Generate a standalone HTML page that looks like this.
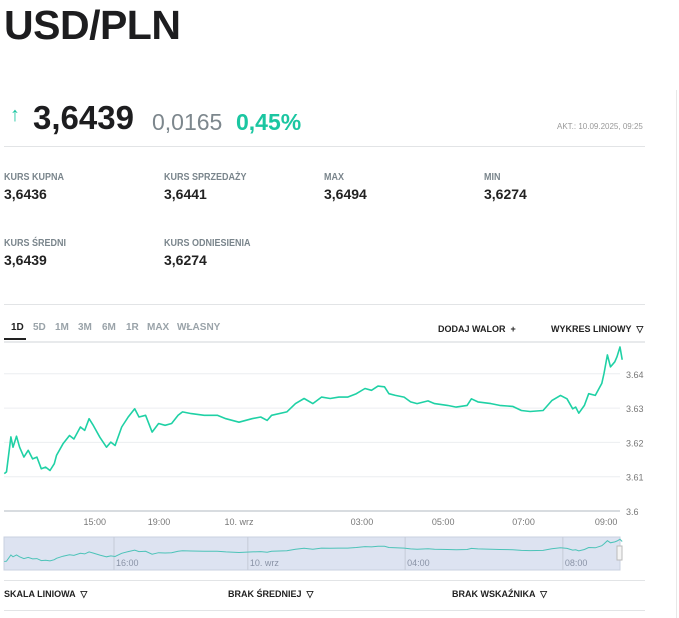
<!DOCTYPE html>
<html><head><meta charset="utf-8">
<style>
body{margin:0;width:679px;height:618px;background:#fff;font-family:"Liberation Sans",sans-serif;color:#222;position:relative;overflow:hidden}
.a{position:absolute;white-space:nowrap}
.lab{font-size:10px;color:#7a858c;font-weight:bold;transform:scaleX(.9);transform-origin:left}
.val{font-size:14px;font-weight:bold;color:#222}
.hl{position:absolute;height:1px;background:#e2e4e6}
.tab{font-size:10px;color:#9aa3a9;font-weight:bold}
.ft{font-size:10px;font-weight:bold;color:#222}
</style></head><body>
<div class="a" style="left:4px;top:2px;font-size:41px;font-weight:bold;letter-spacing:-0.5px;color:#1d1d1f">USD/PLN</div>
<div class="a" style="left:10px;top:104px;font-size:20px;color:#1bc6a1;font-weight:bold">↑</div>
<div class="a" style="left:33px;top:99px;font-size:33px;font-weight:bold;color:#1d1d1f">3,6439</div>
<div class="a" style="left:152px;top:109px;font-size:23px;color:#7d878d">0,0165</div>
<div class="a" style="left:236px;top:109px;font-size:23px;color:#1bc6a1;font-weight:bold">0,45%</div>
<div class="a" style="left:557px;top:122px;font-size:8px;color:#999">AKT.: 10.09.2025, 09:25</div>
<div class="hl" style="left:4px;top:146px;width:641px"></div>

<div class="a lab" style="left:4px;top:172px">KURS KUPNA</div>
<div class="a val" style="left:4px;top:186px">3,6436</div>
<div class="a lab" style="left:164px;top:172px">KURS SPRZEDAŻY</div>
<div class="a val" style="left:164px;top:186px">3,6441</div>
<div class="a lab" style="left:324px;top:172px">MAX</div>
<div class="a val" style="left:324px;top:186px">3,6494</div>
<div class="a lab" style="left:484px;top:172px">MIN</div>
<div class="a val" style="left:484px;top:186px">3,6274</div>
<div class="a lab" style="left:4px;top:238px">KURS ŚREDNI</div>
<div class="a val" style="left:4px;top:252px">3,6439</div>
<div class="a lab" style="left:164px;top:238px">KURS ODNIESIENIA</div>
<div class="a val" style="left:164px;top:252px">3,6274</div>
<div class="hl" style="left:4px;top:304px;width:641px"></div>

<div class="a tab" style="left:11px;top:322px;color:#222">1D</div>
<div class="a" style="left:4px;top:338px;width:22px;height:2px;background:#222"></div>
<div class="a tab" style="left:33px;top:322px">5D</div>
<div class="a tab" style="left:55px;top:322px">1M</div>
<div class="a tab" style="left:78px;top:322px">3M</div>
<div class="a tab" style="left:102px;top:322px">6M</div>
<div class="a tab" style="left:126px;top:322px">1R</div>
<div class="a tab" style="left:147px;top:322px">MAX</div>
<div class="a tab" style="left:177px;top:322px">WŁASNY</div>
<div class="a ft" style="left:438px;top:324px;font-size:9px">DODAJ WALOR &nbsp;+</div>
<div class="a ft" style="left:551px;top:324px;font-size:9px">WYKRES LINIOWY &nbsp;▽</div>
<div class="hl" style="left:4px;top:341px;width:641px;background:#e8eaec;height:2px"></div>
<div class="a" style="left:676px;top:90px;width:1px;height:528px;background:#e8e8e8"></div>

<svg class="a" style="left:0;top:0" width="679" height="618">
<g id="grid"></g><g id="main"></g><g id="nav"></g>
</svg>

<div class="hl" style="left:4px;top:580px;width:641px"></div>
<div class="a ft" style="left:4px;top:589px;font-size:9px">SKALA LINIOWA &nbsp;▽</div>
<div class="a ft" style="left:228px;top:589px;font-size:9px">BRAK ŚREDNIEJ &nbsp;▽</div>
<div class="a ft" style="left:452px;top:589px;font-size:9px">BRAK WSKAŹNIKA &nbsp;▽</div>
<div class="hl" style="left:4px;top:610px;width:641px"></div>

<script>
const sampleIdx=[1,1.5,2.5,3,3.8,4.5,5.5,6.5,7.5,8.5,9.5,10.5,11.5,12.5,13,14.5,16,17,18.5,19.5,20.5,21.5,23,24.5,25.5,26.5,28,29.5,31,32,33.5,35,36.5,38,39.5,41,42,44,47,50,52,55,58,60,61.5,62.5,66,68,70,72,74,76,78,80,82,84,85.5,87,88.5,89.5,91,93,94.5,96,98.5,100,103,105,107.5,108.5,110,113,115,118,120,122,125,127,129,130.5,131.8,132.5,133.2,134.5,135.5,137,138.5,139,139.8,140.5,141.5,142,142.7,143.2];
const rates=[3.6109,3.6114,3.6216,3.6186,3.6218,3.6186,3.6157,3.6177,3.6152,3.6157,3.6123,3.6128,3.6118,3.6138,3.6162,3.6196,3.6220,3.6210,3.6245,3.6235,3.6269,3.6249,3.6215,3.6186,3.6201,3.6191,3.6245,3.6274,3.6298,3.6274,3.6279,3.6230,3.6255,3.6250,3.6255,3.6279,3.6289,3.6284,3.6279,3.6279,3.6269,3.6259,3.6269,3.6274,3.6264,3.6279,3.6289,3.6313,3.6328,3.6313,3.6332,3.6328,3.6332,3.6332,3.6342,3.6357,3.6352,3.6364,3.6362,3.6342,3.6337,3.6332,3.6318,3.6313,3.6321,3.6313,3.6308,3.6303,3.6308,3.6327,3.6318,3.6313,3.6308,3.6305,3.6293,3.6290,3.6293,3.6322,3.6337,3.6327,3.6298,3.6303,3.6285,3.6308,3.6342,3.6337,3.6372,3.6401,3.6455,3.6420,3.6435,3.6450,3.6478,3.6441];
const yTicks=[3.6,3.61,3.62,3.63,3.64];
const xTickPos=[21.8,36.6,55,83.3,102,120.5,139.5];
const xTickLabels=["15:00","19:00","10. wrz","03:00","05:00","07:00","09:00"];
const navTickPos=[26.7,57.5,93.7,130];
const navTickLabels=["16:00","10. wrz","04:00","08:00"];
const NS='http://www.w3.org/2000/svg';
const X=t=>t*4.345, Y=v=>511-(v-3.6)*3430;
const NY=v=>565-(v-3.605)*600;
function mk(tag,at,par){const e=document.createElementNS(NS,tag);for(const k in at)e.setAttribute(k,at[k]);document.getElementById(par).appendChild(e);return e;}
yTicks.forEach((v,i)=>{
 const l=mk('line',{x1:4,x2:620,y1:Y(v),y2:Y(v),stroke:i==0?'#d8dce0':'#eceef0','stroke-width':i==0?2:1},'grid');
 
 
 const t=mk('text',{x:626,y:Y(v)+4,'font-size':9,fill:'#777','font-family':'Liberation Sans'},'grid');t.textContent=String(v);
 
 
});
xTickPos.forEach((p,i)=>{
 const t=mk('text',{x:X(p),y:525,'font-size':9,fill:'#777','text-anchor':'middle','font-family':'Liberation Sans'},'grid');t.textContent=xTickLabels[i];
 
 
});
const pts=sampleIdx.map((t,i)=>X(t).toFixed(1)+','+Y(rates[i]).toFixed(1)).join(' ');
const pl=mk('polyline',{points:pts,fill:'none',stroke:'#1fd1a5','stroke-width':1.6,'stroke-linejoin':'round'},'main');


const nb=mk('rect',{x:4,y:537,width:616,height:33,fill:'#dde3f1',stroke:'#c9d0e0'},'nav');


navTickPos.forEach((p,i)=>{
 mk('line',{x1:X(p)-2,x2:X(p)-2,y1:537,y2:570,stroke:'#c5cbd8'},'nav');
 const t=mk('text',{x:X(p),y:566,'font-size':9,fill:'#8a93a6','font-family':'Liberation Sans'},'nav');t.textContent=navTickLabels[i];
 
 
});
const npl=mk('polyline',{points:sampleIdx.map((t,i)=>X(t).toFixed(1)+','+NY(rates[i]).toFixed(1)).join(' '),fill:'none',stroke:'#4cc3b8','stroke-width':1},'nav');


const h=mk('rect',{x:617,y:546,width:5,height:14,fill:'#f4f4f4',stroke:'#bbb'},'nav');


</script>
</body></html>
